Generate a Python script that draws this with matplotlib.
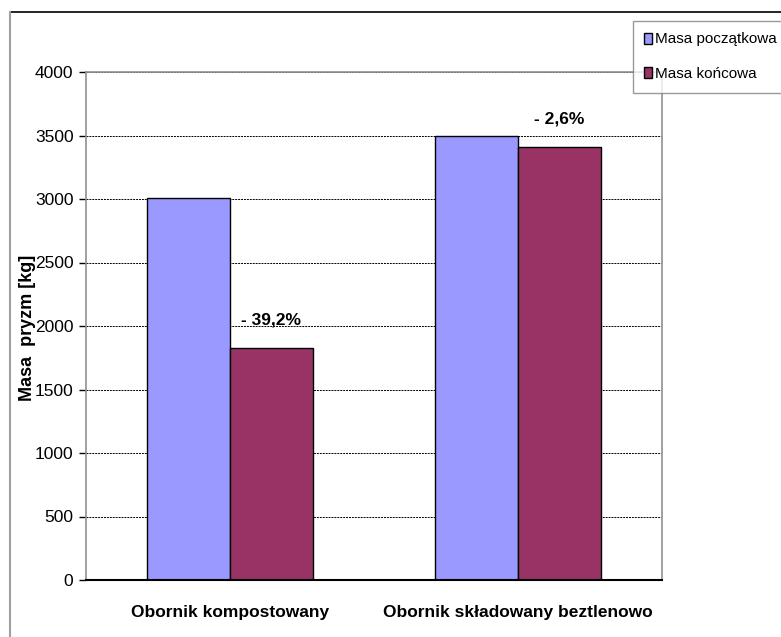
import matplotlib.pyplot as plt
from matplotlib.lines import Line2D
from matplotlib import font_manager
import numpy as np

categories = ["Obornik kompostowany", "Obornik składowany beztlenowo"]
masa_poczatkowa = [3010, 3500]
masa_koncowa = [1830, 3410]
ubytek = ["- 39,2%", "- 2,6%"]
yticks = [0, 500, 1000, 1500, 2000, 2500, 3000, 3500, 4000]

names = {f.name for f in font_manager.fontManager.ttflist}
fam = ["Liberation Sans Narrow", "Liberation Sans", "DejaVu Sans"]
fam = [f for f in fam if f in names] or ["DejaVu Sans"]
plt.rcParams["font.family"] = fam

fig = plt.figure(figsize=(7.81, 6.37), dpi=100)
W, H = 781, 637
ax = fig.add_axes([86 / W, 1 - 580 / H, (662 - 86) / W, (580 - 72) / H])

x = np.arange(len(categories))
w = 0.288
ax.bar(x - w / 2, masa_poczatkowa, w, color="#9999ff", edgecolor="black", linewidth=1.0,
       label="Masa początkowa", zorder=3)
ax.bar(x + w / 2, masa_koncowa, w, color="#993366", edgecolor="black", linewidth=1.0,
       label="Masa końcowa", zorder=3)

for i, t in enumerate(ubytek):
    ax.text(x[i] + w / 2, masa_koncowa[i] + 160, t, ha="center", va="bottom",
            fontsize=12.5, fontweight="bold")

ax.set_xlim(-0.5, 1.5)
ax.set_ylim(0, 4000)
ax.set_yticks(yticks)
ax.set_yticklabels([str(v) for v in yticks], fontsize=12.5)
ax.set_xticks(x)
ax.set_xticklabels(categories, fontsize=12.5, fontweight="bold")
ax.tick_params(axis="x", length=0, pad=18)
ax.tick_params(axis="y", length=5, width=1, direction="out", pad=4)
ax.grid(axis="y", color="black", linestyle=(0, (2, 1)), linewidth=0.7, zorder=0)
for s in ["left", "top", "right"]:
    ax.spines[s].set_color("#909090")
    ax.spines[s].set_linewidth(1.2)
ax.spines["bottom"].set_color("black")
ax.spines["bottom"].set_linewidth(1.5)
ax.spines["bottom"].set_zorder(4)

fig.text(28 / W, 1 - 328 / H, "Masa  pryzm [kg]", rotation=90, ha="center", va="center",
         fontsize=13, fontweight="bold", family=["Liberation Sans", "DejaVu Sans"])

leg = fig.legend(loc="upper left", bbox_to_anchor=(633 / W, 1 - 21 / H), fontsize=11,
                 frameon=True, fancybox=False, handlelength=0.5, handleheight=0.75,
                 handletextpad=0.2, labelspacing=1.35, borderpad=0.75, borderaxespad=0)
leg.get_frame().set_edgecolor("#808080")
leg.get_frame().set_linewidth(1.0)
for h in leg.legend_handles:
    h.set_edgecolor("black")

fig.add_artist(Line2D([10 / W, 1], [1 - 12 / H, 1 - 12 / H], color="black", linewidth=1.2))
fig.add_artist(Line2D([10 / W, 10 / W], [0, 1 - 12 / H], color="#a0a0a0", linewidth=1.5))

fig.savefig("out.png", dpi=100)
